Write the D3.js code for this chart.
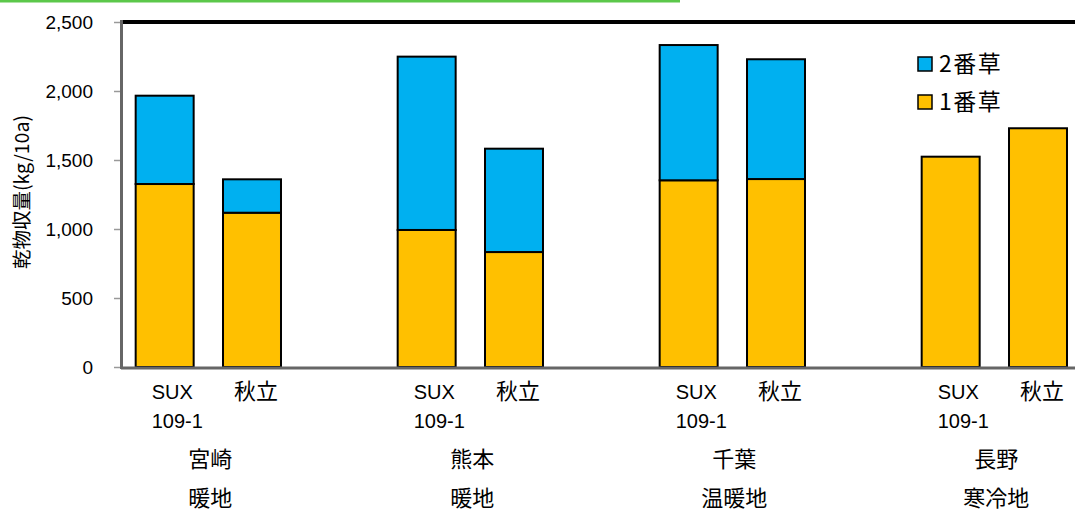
<!DOCTYPE html>
<html>
<head>
<meta charset="utf-8">
<script src="https://cdn.jsdelivr.net/npm/d3@7"></script>
<style>
  body { margin: 0; background: #fff; }
  svg { display: block; }
  text { font-family: "Liberation Sans", "Noto Sans CJK JP", sans-serif; fill: #000; }
  .jp { font-family: "Noto Sans CJK JP", sans-serif; }
</style>
</head>
<body>
<div class="chart"></div>
<script>
// data
var sites = ["宮崎", "熊本", "千葉", "長野"];
var zones = ["暖地", "暖地", "温暖地", "寒冷地"];
var varieties = ["SUX", "秋立", "_"];
var first  = [[1326, 1118], [993, 833], [1353, 1362], [1524, 1730]];   // 1番草
var second = [[640, 242], [1256, 749], [980, 868], [0, 0]];            // 2番草
var yTicks = [0, 500, 1000, 1500, 2000, 2500];
var legendLabels = ["2番草", "1番草"];
var colors = ["#00b0f0", "#ffc000"];

var width = 1075, height = 511;
var plotLeft = 121, plotTop = 22, plotBottom = 367;

var svg = d3.select(".chart").append("svg")
    .attr("width", width)
    .attr("height", height);

// green strip at the very top
svg.append("line")
    .attr("x1", 0).attr("x2", 680)
    .attr("y1", 1).attr("y2", 1)
    .attr("stroke", "#5cc84a")
    .attr("stroke-width", 3);

var y = d3.scaleLinear().domain([0, 2500]).range([plotBottom, plotTop]);

var xGroup = d3.scaleBand()
    .domain(sites)
    .range([plotLeft, plotLeft + 262 * sites.length]);

var xSub = d3.scaleBand()
    .domain(varieties)
    .range([0, xGroup.bandwidth()])
    .paddingInner(0.336)
    .paddingOuter(0.168);

// flatten into stacked rows
var rows = [];
sites.forEach(function(s, i) {
  [0, 1].forEach(function(j) {
    rows.push({site: s, variety: varieties[j], v1: first[i][j], v2: second[i][j]});
  });
});

// y axis
var yAxis = d3.axisLeft(y)
    .tickValues(yTicks)
    .tickSize(7)
    .tickPadding(21)
    .tickFormat(d3.format(","));

var gy = svg.append("g")
    .attr("transform", "translate(" + plotLeft + ",0)")
    .call(yAxis);
gy.select(".domain").remove();
gy.selectAll(".tick line").attr("stroke", "#999").attr("stroke-width", 1.5);
gy.selectAll(".tick text")
    .attr("font-size", 19)
    .style("font-family", "'Liberation Sans', sans-serif");

// bars
var bars = svg.append("g").attr("class", "bars");

bars.selectAll("rect.b1")
    .data(rows)
    .enter().append("rect")
    .attr("class", "b1")
    .attr("x", function(d) { return xGroup(d.site) + xSub(d.variety); })
    .attr("width", xSub.bandwidth())
    .attr("y", function(d) { return y(d.v1); })
    .attr("height", function(d) { return y(0) - y(d.v1); })
    .attr("fill", colors[1])
    .attr("stroke", "#000")
    .attr("stroke-width", 2);

bars.selectAll("rect.b2")
    .data(rows.filter(function(d) { return d.v2 > 0; }))
    .enter().append("rect")
    .attr("class", "b2")
    .attr("x", function(d) { return xGroup(d.site) + xSub(d.variety); })
    .attr("width", xSub.bandwidth())
    .attr("y", function(d) { return y(d.v1 + d.v2); })
    .attr("height", function(d) { return y(d.v1) - y(d.v1 + d.v2); })
    .attr("fill", colors[0])
    .attr("stroke", "#000")
    .attr("stroke-width", 2);

// frame: top black line, left and bottom gray axes
svg.append("line")
    .attr("x1", plotLeft).attr("x2", width)
    .attr("y1", plotTop).attr("y2", plotTop)
    .attr("stroke", "#000").attr("stroke-width", 4);

svg.append("line")
    .attr("x1", plotLeft + 0.5).attr("x2", plotLeft + 0.5)
    .attr("y1", plotTop - 2).attr("y2", plotBottom + 2)
    .attr("stroke", "#666").attr("stroke-width", 3);

svg.append("line")
    .attr("x1", plotLeft).attr("x2", width)
    .attr("y1", plotBottom + 1).attr("y2", plotBottom + 1)
    .attr("stroke", "#666").attr("stroke-width", 3);

// category labels
var labels = svg.append("g").attr("class", "xlabels");

sites.forEach(function(s, i) {
  var gx = xGroup(s);
  var x0 = gx + xSub("SUX");
  var x1 = gx + xSub("秋立") + xSub.bandwidth() / 2;
  labels.append("text")
      .attr("x", x0 + 16).attr("y", 399)
      .attr("font-size", 20)
      .style("font-family", "'Liberation Sans', sans-serif")
      .text("SUX");
  labels.append("text")
      .attr("x", x0 + 16).attr("y", 428)
      .attr("font-size", 20)
      .style("font-family", "'Liberation Sans', sans-serif")
      .text("109-1");
  labels.append("text")
      .attr("class", "jp")
      .attr("x", x1 + 4).attr("y", 399)
      .attr("text-anchor", "middle")
      .attr("font-size", 22)
      .text("秋立");
  var mid = (x0 + xSub.bandwidth() / 2 + x1) / 2;
  labels.append("text")
      .attr("class", "jp")
      .attr("x", mid + 2).attr("y", 467)
      .attr("text-anchor", "middle")
      .attr("font-size", 22)
      .text(s);
  labels.append("text")
      .attr("class", "jp")
      .attr("x", mid + 2).attr("y", 506)
      .attr("text-anchor", "middle")
      .attr("font-size", 22)
      .text(zones[i]);
});

// y title
svg.append("text")
    .attr("transform", "translate(29,192) rotate(-90)")
    .attr("text-anchor", "middle")
    .attr("font-size", 19.5)
    .style("font-family", "'Noto Sans CJK JP', sans-serif")
    .text("乾物収量(kg/10a)");

// legend
var legend = svg.append("g")
    .attr("class", "legend")
    .selectAll("g")
    .data(legendLabels)
    .enter().append("g")
    .attr("transform", function(d, i) { return "translate(918," + (57 + i * 38) + ")"; });

legend.append("rect")
    .attr("width", 14).attr("height", 14)
    .attr("fill", function(d, i) { return colors[i]; })
    .attr("stroke", "#000").attr("stroke-width", 1.5);

legend.append("text")
    .attr("class", "jp")
    .attr("x", 21).attr("y", 15)
    .attr("font-size", 23)
    .attr("letter-spacing", 1.5)
    .text(function(d) { return d; });
</script>
</body>
</html>
